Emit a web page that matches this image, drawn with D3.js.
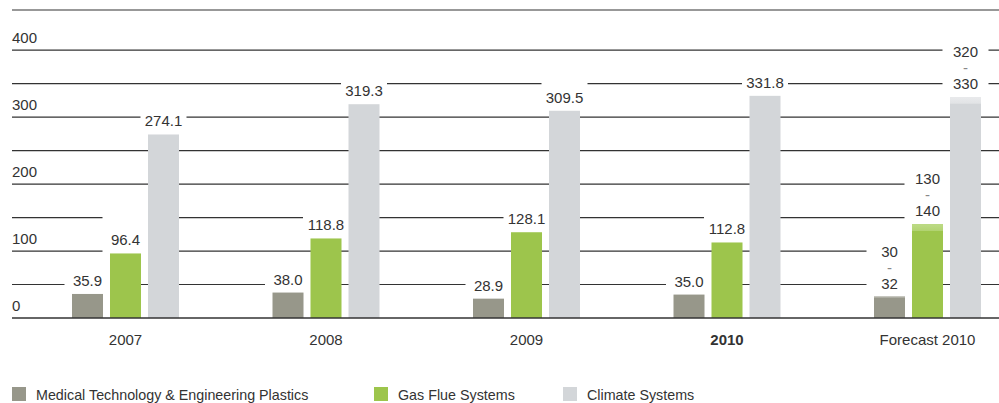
<!DOCTYPE html>
<html>
<head>
<meta charset="utf-8">
<script src="https://cdn.jsdelivr.net/npm/d3@7"></script>
<style>
  html, body { margin: 0; padding: 0; background: #fff; }
  svg { display: block; }
  text { font-family: "Liberation Sans", Arial, sans-serif; fill: #333; }
</style>
</head>
<body>
<svg id="chart" width="999" height="403"></svg>
<script>
// Sales by division (EUR million)
const years = ["2007", "2008", "2009", "2010", "Forecast 2010"];
const series = ["Medical Technology & Engineering Plastics", "Gas Flue Systems", "Climate Systems"];
const medical = [35.9, 38.0, 28.9, 35.0, [30, 32]];
const gasFlue = [96.4, 118.8, 128.1, 112.8, [130, 140]];
const climate = [274.1, 319.3, 309.5, 331.8, [320, 330]];
const yTicks = [0, 100, 200, 300, 400];
const gridValues = [50, 100, 150, 200, 250, 300, 350, 400, 460];
const boldYear = "2010";

const colors = ["#97978a", "#9dc54c", "#d3d6d9"];
const bandColors = ["#b7b7ad", "#bddb86", "#e9eaec"];

const svg = d3.select("#chart");
const W = 999, H = 403;

const x = d3.scaleBand().domain(years).range([25.25, 1027.75]);
const xs = d3.scaleBand().domain(series).range([-53.5, 53.5]).paddingInner(0.184);
const y = d3.scaleLinear().domain([0, 460]).range([318, 10]);

const valuesBySeries = [medical, gasFlue, climate];

// gradients for the forecast ranges
const defs = svg.append("defs");
colors.forEach((c, i) => {
  const g = defs.append("linearGradient").attr("id", "band" + i)
    .attr("x1", 0).attr("x2", 0).attr("y1", 0).attr("y2", 1);
  g.append("stop").attr("offset", "0%").attr("stop-color", bandColors[i]);
  g.append("stop").attr("offset", "100%").attr("stop-color", d3.interpolateRgb(bandColors[i], c)(0.35));
});

// grid lines
svg.append("g").selectAll("line").data(gridValues).join("line")
  .attr("x1", 12).attr("x2", W)
  .attr("y1", d => y(d)).attr("y2", d => y(d))
  .attr("stroke", "#333").attr("stroke-width", 1.2);

// y tick labels
svg.append("g").selectAll("text").data(yTicks).join("text")
  .attr("x", 12).attr("y", d => y(d) - 7)
  .attr("font-size", 15)
  .text(d => d);

// flatten the data into marks
const marks = [];
years.forEach((yr, gi) => {
  series.forEach((s, si) => {
    const v = valuesBySeries[si][gi];
    const isRange = Array.isArray(v);
    marks.push({
      year: yr, series: s, si,
      lo: isRange ? v[0] : v,
      hi: isRange ? v[1] : v,
      isRange,
      label: isRange ? [String(v[0]), "-", String(v[1])] : [v.toFixed(1)]
    });
  });
});

const cx = d => x(d.year) + x.bandwidth() / 2 + xs(d.series);
const bw = xs.bandwidth();

// label backgrounds keep the grid clear around each value
svg.append("g").selectAll("rect").data(marks).join("rect")
  .attr("x", d => cx(d) + bw / 2 - 23)
  .attr("width", 46)
  .attr("y", d => y(d.hi) - (d.isRange ? 72 : 38))
  .attr("height", d => d.isRange ? 72 : 38)
  .attr("fill", "#fff");

// bars
svg.append("g").selectAll("rect").data(marks).join("rect")
  .attr("x", d => cx(d))
  .attr("width", bw)
  .attr("y", d => y(d.hi))
  .attr("height", d => y(0) - y(d.hi))
  .attr("fill", d => colors[d.si]);

// forecast range bands
svg.append("g").selectAll("rect").data(marks.filter(d => d.isRange)).join("rect")
  .attr("x", d => cx(d))
  .attr("width", bw)
  .attr("y", d => y(d.hi))
  .attr("height", d => y(d.lo) - y(d.hi))
  .attr("fill", d => `url(#band${d.si})`);

// value labels
const lab = svg.append("g").selectAll("text").data(marks).join("text")
  .attr("text-anchor", "middle")
  .attr("font-size", 15)
  .attr("x", d => cx(d) + bw / 2)
  .attr("y", d => y(d.hi) - 8);
lab.each(function (d) {
  const t = d3.select(this);
  const n = d.label.length;
  d.label.forEach((s, k) => {
    t.append("tspan")
      .attr("x", cx(d) + bw / 2)
      .attr("dy", k === 0 ? -(n - 1) * 16 : 16)
      .attr("fill", s === "-" ? "#888" : "#333")
      .text(s);
  });
});

// baseline
svg.append("line")
  .attr("x1", 12).attr("x2", W)
  .attr("y1", y(0)).attr("y2", y(0))
  .attr("stroke", "#333").attr("stroke-width", 1.3);

// category labels
svg.append("g").selectAll("text").data(years).join("text")
  .attr("x", d => x(d) + x.bandwidth() / 2)
  .attr("y", 345)
  .attr("text-anchor", "middle")
  .attr("font-size", 15)
  .attr("font-weight", d => d === boldYear ? "bold" : "normal")
  .text(d => d);

// legend
const legendX = [12, 374, 563];
const lg = svg.append("g").selectAll("g").data(series).join("g")
  .attr("transform", (d, i) => `translate(${legendX[i]},387)`);
lg.append("rect").attr("width", 14).attr("height", 14)
  .attr("fill", (d, i) => colors[i]);
lg.append("text").attr("x", 24).attr("y", 12.5)
  .attr("font-size", 14.3)
  .text(d => d);
</script>
</body>
</html>
